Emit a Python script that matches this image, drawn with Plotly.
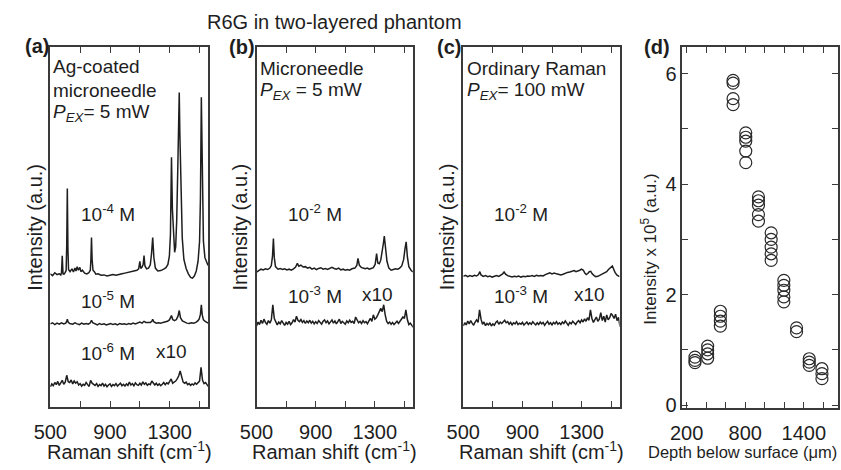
import plotly.graph_objects as go

# ---------------- data ----------------
# Panel (a): Ag-coated microneedle, P_EX = 5 mW
shift_a1 = [500, 515, 530, 545, 560, 570, 575, 580, 585, 592, 600, 606, 610, 614, 618, 622, 632, 645, 655, 665,
            672, 680, 688, 698, 705, 715, 730, 745, 758, 768, 772, 776, 780, 786, 795, 805, 820, 840, 860, 880,
            900, 920, 940, 960, 980, 1000, 1020, 1040, 1060, 1080, 1092, 1100, 1106, 1114, 1122, 1128, 1134,
            1145, 1158, 1170, 1178, 1186, 1194, 1204, 1220, 1240, 1260, 1275, 1288, 1298, 1305, 1312, 1318,
            1325, 1333, 1340, 1347, 1354, 1360, 1364, 1368, 1375, 1384, 1395, 1410, 1425, 1440, 1452, 1465,
            1478, 1490, 1500, 1506, 1512, 1518, 1526, 1536, 1548, 1557]
int_a1 = [37.0, 36.5, 37.3, 36.8, 37.0, 36.7, 37.4, 42.0, 37.0, 36.9, 37.4, 37.9, 45.0, 60.7, 44.0, 38.2, 37.6, 38.4,
          37.5, 38.6, 37.8, 39.0, 38.0, 38.8, 37.6, 38.0, 37.2, 37.0, 37.3, 38.0, 41.0, 47.1, 41.0, 38.0, 37.6,
          36.9, 37.0, 36.6, 36.7, 36.4, 36.6, 36.8, 36.6, 36.9, 37.0, 37.2, 37.4, 37.5, 37.8, 38.0, 38.4, 40.5,
          38.5, 38.8, 39.6, 42.1, 39.2, 38.4, 38.6, 39.5, 42.5, 47.1, 41.5, 38.6, 37.8, 37.9, 38.3, 38.7, 39.6,
          42.0, 48.0, 69.4, 55.0, 47.0, 43.0, 44.5, 52.0, 66.0, 80.0, 87.4, 76.0, 58.0, 47.0, 41.0, 38.5, 37.0,
          36.0, 35.8, 36.4, 37.8, 40.5, 46.0, 58.0, 86.1, 62.0, 46.0, 41.5, 40.0, 39.3]

shift_a2 = [500, 515, 530, 545, 560, 575, 590, 604, 610, 614, 619, 630, 650, 665, 680, 695, 710, 725, 740, 755,
            768, 776, 784, 800, 815, 830, 845, 860, 875, 890, 905, 920, 935, 950, 965, 980, 995, 1010, 1025,
            1040, 1055, 1070, 1085, 1100, 1115, 1128, 1140, 1155, 1170, 1180, 1186, 1193, 1210, 1225, 1240,
            1255, 1270, 1285, 1298, 1306, 1312, 1320, 1332, 1345, 1356, 1364, 1372, 1385, 1400, 1415, 1430,
            1445, 1460, 1475, 1488, 1498, 1506, 1512, 1518, 1526, 1538, 1548, 1557]
int_a2 = [23.1, 23.4, 22.9, 23.3, 23.0, 23.4, 23.1, 23.3, 23.9, 24.4, 23.6, 23.2, 23.0, 23.4, 23.1, 22.9, 23.3,
          23.0, 23.2, 23.0, 23.4, 24.1, 23.4, 23.0, 22.8, 23.2, 22.9, 23.1, 22.8, 23.0, 23.2, 22.9, 23.1, 22.8,
          23.2, 23.0, 23.1, 22.9, 23.2, 23.0, 23.3, 23.1, 23.4, 23.6, 23.3, 23.8, 23.5, 23.4, 23.5, 23.8, 24.4,
          23.7, 23.3, 23.4, 23.3, 23.5, 23.6, 23.8, 24.2, 24.9, 25.4, 24.3, 24.0, 24.3, 25.3, 26.8, 24.8, 23.9,
          23.5, 23.3, 23.2, 23.4, 23.3, 23.5, 23.9, 24.5, 25.8, 28.4, 25.6, 24.2, 23.8, 23.5, 23.3]

# grid (cm-1) for the noisy x10 traces
shift_grid = list(range(500, 1561, 10))
int_a3 = [5.6, 6.4, 5.9, 6.8, 6.2, 7.1, 6.0, 6.6, 7.4, 6.3,
          6.9, 8.8, 7.0, 6.8, 7.5, 6.4, 7.2, 6.6, 7.0, 6.1,
          6.5, 5.8, 6.3, 6.0, 6.8, 6.2, 5.7, 7.4, 6.6, 6.3,
          6.0, 6.5, 5.7, 6.2, 5.9, 6.6, 5.8, 6.3, 5.6, 6.1,
          6.4, 5.7, 6.2, 5.9, 6.5, 5.8, 6.1, 6.6, 5.9, 6.3,
          5.8, 6.4, 6.0, 6.9, 6.1, 6.5, 5.9, 6.7, 6.2, 6.0,
          6.6, 6.1, 7.0, 6.3, 6.7, 6.0, 6.4, 6.2, 7.2, 6.5,
          6.1, 6.6, 6.0, 6.4, 5.9, 6.3, 6.8, 6.2, 6.7, 6.4,
          7.0, 7.8, 6.6, 6.9, 7.2, 7.8, 8.6, 10.0, 8.0, 6.9,
          6.6, 6.9, 6.2, 6.5, 6.0, 6.4, 6.1, 6.7, 6.3, 6.8,
          7.2, 11.0, 7.4, 6.5, 6.8, 6.2, 5.7]

# Panel (b): microneedle, P_EX = 5 mW
shift_b1 = [500, 515, 530, 545, 560, 575, 590, 600, 608, 614, 620, 628, 645, 660, 675, 690, 705, 720, 735, 750,
            764, 776, 786, 800, 815, 830, 845, 860, 875, 890, 905, 920, 935, 950, 965, 980, 995, 1010, 1025,
            1040, 1055, 1070, 1085, 1100, 1115, 1130, 1145, 1165, 1178, 1186, 1195, 1208, 1220, 1235, 1250,
            1262, 1275, 1290, 1302, 1312, 1320, 1330, 1340, 1350, 1358, 1364, 1372, 1382, 1395, 1410, 1425,
            1440, 1455, 1468, 1482, 1495, 1504, 1512, 1520, 1530, 1545, 1557]
int_b1 = [37.5, 37.9, 38.3, 38.1, 38.4, 38.2, 38.6, 39.3, 42.0, 46.8, 41.5, 39.0, 38.3, 38.5, 38.2, 38.4, 38.1,
          38.3, 38.0, 38.4, 38.9, 39.9, 39.1, 39.4, 38.9, 39.0, 38.6, 38.8, 38.3, 38.6, 38.2, 38.5, 38.7, 38.3,
          38.5, 38.2, 38.4, 38.8, 38.5, 38.3, 38.6, 38.1, 38.3, 38.0, 38.2, 38.0, 38.4, 38.6, 39.3, 41.3, 39.4,
          38.8, 38.6, 38.4, 38.6, 38.3, 38.5, 38.7, 39.6, 42.6, 40.0, 39.8, 40.8, 43.0, 45.5, 47.5, 44.0, 40.5,
          38.6, 38.0, 38.2, 38.4, 38.3, 38.6, 39.2, 41.0, 44.0, 45.9, 41.8, 39.0, 38.0, 37.5]

int_b2 = [22.5, 23.6, 22.9, 24.1, 23.2, 24.4, 23.5, 23.0, 24.0, 23.3,
          24.2, 28.4, 24.6, 23.4, 22.8, 23.6, 23.1, 24.0, 23.2, 22.7,
          23.5, 23.0, 23.8, 22.9, 23.4, 24.3, 23.6, 25.2, 24.1, 23.7,
          24.3, 23.5, 24.0, 23.2, 23.9, 23.4, 24.1, 23.3, 23.8, 23.1,
          23.7, 23.2, 24.0, 23.5, 23.0, 23.8, 24.2, 23.4, 23.9, 23.1,
          23.6, 24.2, 23.3, 23.9, 23.1, 23.7, 24.4, 23.2, 23.8, 23.4,
          23.0, 23.9, 23.4, 24.1, 23.5, 23.8, 23.2, 25.0, 24.2, 23.4,
          23.8, 23.2, 24.0, 23.4, 23.7, 23.1, 23.9, 24.6, 23.8, 25.6,
          24.4, 24.8, 25.6, 26.6, 27.4, 26.5, 28.4, 25.6, 23.8, 23.2,
          23.6, 23.0, 23.5, 22.9, 23.4, 23.8, 23.2, 23.9, 24.2, 25.0,
          24.6, 27.0, 24.3, 22.9, 23.3, 22.6, 22.1]

# Panel (c): ordinary Raman, P_EX = 100 mW
shift_c1 = [500, 515, 530, 545, 560, 575, 590, 603, 612, 620, 635, 650, 665, 680, 695, 710, 725, 740, 755, 766,
            776, 786, 800, 815, 830, 845, 860, 875, 890, 905, 920, 935, 950, 965, 980, 995, 1010, 1025, 1040,
            1055, 1070, 1085, 1100, 1115, 1130, 1145, 1160, 1175, 1190, 1205, 1220, 1235, 1250, 1262, 1275,
            1288, 1300, 1312, 1322, 1332, 1342, 1352, 1362, 1372, 1385, 1396, 1410, 1425, 1440, 1455, 1470,
            1482, 1492, 1500, 1508, 1516, 1526, 1540, 1557]
int_c1 = [36.3, 36.6, 36.2, 36.5, 36.3, 36.6, 36.4, 36.8, 37.6, 36.7, 36.3, 36.5, 36.2, 36.4, 36.1, 36.3, 36.5,
          36.3, 36.6, 37.0, 37.5, 36.9, 36.5, 36.3, 36.1, 36.3, 36.2, 36.4, 36.1, 36.3, 36.2, 36.4, 36.3, 36.5,
          36.3, 36.6, 36.4, 36.5, 36.4, 36.8, 37.0, 37.3, 37.0, 37.2, 37.0, 36.9, 36.7, 36.9, 37.2, 37.4, 37.5,
          37.6, 37.9, 37.6, 37.7, 38.0, 38.3, 38.0, 37.2, 36.8, 37.1, 37.6, 37.7, 37.0, 36.5, 36.2, 36.3, 36.6,
          36.9, 37.2, 37.6, 38.2, 38.7, 39.0, 39.2, 38.4, 37.4, 36.6, 36.2]

int_c2 = [22.5, 23.4, 22.8, 23.9, 23.1, 24.0, 23.3, 22.7, 23.6, 24.2,
          23.5, 27.0, 24.4, 23.0, 23.6, 22.6, 23.2, 22.8, 23.4, 22.5,
          23.1, 22.7, 23.5, 23.9, 23.0, 23.6, 23.2, 23.8, 24.1, 23.4,
          23.7, 23.0, 23.5, 22.8, 23.4, 23.1, 23.7, 22.9, 23.3, 23.0,
          23.5, 22.8, 23.2, 23.6, 22.9, 23.4, 23.0, 23.7, 23.2, 22.8,
          23.4, 22.9, 23.6, 23.1, 23.5, 22.7, 23.3, 23.8, 23.0, 23.4,
          22.8, 23.5, 23.1, 23.7, 23.0, 23.4, 22.9, 23.6, 23.2, 23.9,
          23.3, 22.7, 23.5, 23.1, 23.8, 23.2, 22.9, 23.6, 24.0, 23.4,
          24.2, 23.6, 24.5, 23.8, 24.8, 24.1, 27.0, 24.6, 23.5, 24.3,
          25.0, 23.8, 24.4, 26.2, 24.0, 25.2, 23.6, 25.6, 24.2, 24.8,
          26.0, 25.4, 24.6, 25.8, 24.0, 24.9, 22.3]

# Panel (d): intensity vs depth (repeated measurements at each depth)
depth_um = [285, 415, 545, 675, 805, 935, 1065, 1195, 1325, 1455, 1585]
intensity_e5 = [
    [0.87, 0.81, 0.77],
    [1.07, 1.00, 0.93, 0.85],
    [1.70, 1.61, 1.52, 1.43],
    [5.88, 5.83, 5.55, 5.44],
    [4.93, 4.85, 4.78, 4.60, 4.39],
    [3.77, 3.70, 3.62, 3.45, 3.33],
    [3.12, 3.00, 2.86, 2.74, 2.62],
    [2.26, 2.17, 2.08, 1.96, 1.87],
    [1.40, 1.33],
    [0.84, 0.78, 0.72],
    [0.66, 0.57, 0.48],
]

spec_ticks = [500, 700, 900, 1100, 1300, 1500]
spec_ticktext = ["500", "", "900", "", "1300", ""]
depth_ticks = [200, 400, 600, 800, 1000, 1200, 1400, 1600]
depth_ticktext = ["200", "", "", "800", "", "", "1400", ""]
int_ticks = [0, 1, 2, 3, 4, 5, 6]
int_ticktext = ["0", "", "2", "", "4", "", "6"]

# ---------------- layout helpers ----------------
W, H = 841, 470
FONT = "Liberation Sans, Arial, Helvetica, sans-serif"
INK = "#1e1e1e"
FRAME = "#3a3a3a"


def fx(p):
    return p / W


def fy(p):
    return 1 - p / H


TOP, BOT = 48, 414
panels = {  # left, right pixel edges
    "a": (34, 195),
    "b": (244.5, 404),
    "c": (455.5, 615),
    "d": (679, 838),
}

fig = go.Figure()

line_style = dict(color=INK, width=1.5)
# panel a
fig.add_trace(go.Scatter(x=shift_a1, y=int_a1, mode="lines", line=line_style, xaxis="x", yaxis="y"))
fig.add_trace(go.Scatter(x=shift_a2, y=int_a2, mode="lines", line=line_style, xaxis="x", yaxis="y"))
fig.add_trace(go.Scatter(x=shift_grid, y=int_a3, mode="lines", line=line_style, xaxis="x", yaxis="y"))
# panel b
fig.add_trace(go.Scatter(x=shift_b1, y=int_b1, mode="lines", line=line_style, xaxis="x2", yaxis="y2"))
fig.add_trace(go.Scatter(x=shift_grid, y=int_b2, mode="lines", line=line_style, xaxis="x2", yaxis="y2"))
# panel c
fig.add_trace(go.Scatter(x=shift_c1, y=int_c1, mode="lines", line=line_style, xaxis="x3", yaxis="y3"))
fig.add_trace(go.Scatter(x=shift_grid, y=int_c2, mode="lines", line=line_style, xaxis="x3", yaxis="y3"))
# panel d
dx, dy = [], []
for d, vals in zip(depth_um, intensity_e5):
    for v in vals:
        dx.append(d)
        dy.append(v)
fig.add_trace(go.Scatter(x=dx, y=dy, mode="markers", xaxis="x4", yaxis="y4",
                         marker=dict(symbol="circle-open", size=12, color="#2a2a2a",
                                     line=dict(width=1.2, color="#2a2a2a"))))

tickfont = dict(family=FONT, size=20, color=INK)
common_x = dict(showgrid=False, zeroline=False, showline=True, linecolor=FRAME, linewidth=1.5,
                ticks="inside", ticklen=6, tickwidth=1.3, tickcolor=FRAME, mirror="allticks",
                tickfont=tickfont)
yd = [fy(BOT), fy(TOP)]
layout_axes = {}
for i, key in enumerate(["a", "b", "c"], start=1):
    l, r = panels[key]
    sx = "" if i == 1 else str(i)
    layout_axes["xaxis" + sx] = dict(common_x, domain=[fx(l), fx(r)], range=[500, 1557],
                                     tickmode="array", tickvals=spec_ticks, ticktext=spec_ticktext,
                                     ticklabelstandoff=6, anchor="y" + sx)
    layout_axes["yaxis" + sx] = dict(domain=yd, range=[0, 100], showgrid=False, zeroline=False,
                                     showline=True, linecolor=FRAME, linewidth=1.5, mirror=True,
                                     showticklabels=False, ticks="", anchor="x" + sx)
l, r = panels["d"]
layout_axes["xaxis4"] = dict(common_x, domain=[fx(l), fx(r)], range=[155, 1750], tickmode="array",
                             tickvals=depth_ticks, ticktext=depth_ticktext, ticklabelstandoff=6,
                             anchor="y4")
layout_axes["yaxis4"] = dict(common_x, domain=[fy(415), fy(TOP)], range=[-0.05, 6.48], tickmode="array",
                             tickvals=int_ticks, ticktext=int_ticktext, anchor="x4")

annotations = []


def txt(x, y, text, size=19, xanchor="left", yanchor="middle", angle=0, bold=False):
    if bold:
        text = "<b>" + text + "</b>"
    annotations.append(dict(x=fx(x), y=fy(y), xref="paper", yref="paper", text=text, showarrow=False,
                            xanchor=xanchor, yanchor=yanchor, textangle=angle,
                            font=dict(family=FONT, size=size, color=INK)))


PEX = "<i>P</i><sub><i>EX</i></sub>"
txt(192, 22, "R6G in two-layered phantom", size=20)
txt(20, 47, "(a)", size=20, xanchor="center", bold=True)
txt(230, 48, "(b)", size=20, xanchor="center", bold=True)
txt(441, 48, "(c)", size=20, xanchor="center", bold=True)
txt(653, 48, "(d)", size=20, xanchor="center", bold=True)

txt(35, 68, "Ag-coated")
txt(35, 92, "microneedle")
txt(35, 115, PEX + "= 5 mW")
txt(246, 70, "Microneedle")
txt(246, 93, PEX + " = 5 mW")
txt(457, 70, "Ordinary Raman")
txt(457, 93, PEX + "= 100 mW")

txt(63, 217, "10<sup>-4</sup> M")
txt(63, 305, "10<sup>-5</sup> M")
txt(63, 358, "10<sup>-6</sup> M")
txt(140, 358, "x10")
txt(275, 217, "10<sup>-2</sup> M")
txt(275, 300, "10<sup>-3</sup> M")
txt(350, 300, "x10")
txt(485, 217, "10<sup>-2</sup> M")
txt(485, 300, "10<sup>-3</sup> M")
txt(566, 300, "x10")

for key, xc in (("a", 18), ("b", 228), ("c", 439)):
    txt(xc, 231, "Intensity (a.u.)", size=20, xanchor="center", angle=-90)
    l, r = panels[key]
    txt((l + r) / 2, 458, "Raman shift (cm<sup>-1</sup>)", size=20, xanchor="center")
txt(645, 253, "Intensity x 10<sup>5</sup> (a.u.)", size=17, xanchor="center", angle=-90)
txt(740, 460, "Depth below surface (\u03bcm)", size=16.5, xanchor="center")

fig.update_layout(width=W, height=H, margin=dict(l=0, r=0, t=0, b=0), paper_bgcolor="white",
                  plot_bgcolor="white", showlegend=False, annotations=annotations,
                  font=dict(family=FONT, size=20, color=INK), **layout_axes)

fig.write_html("out.html", config={"displayModeBar": False},
               post_script="document.body.style.margin='0px';")
